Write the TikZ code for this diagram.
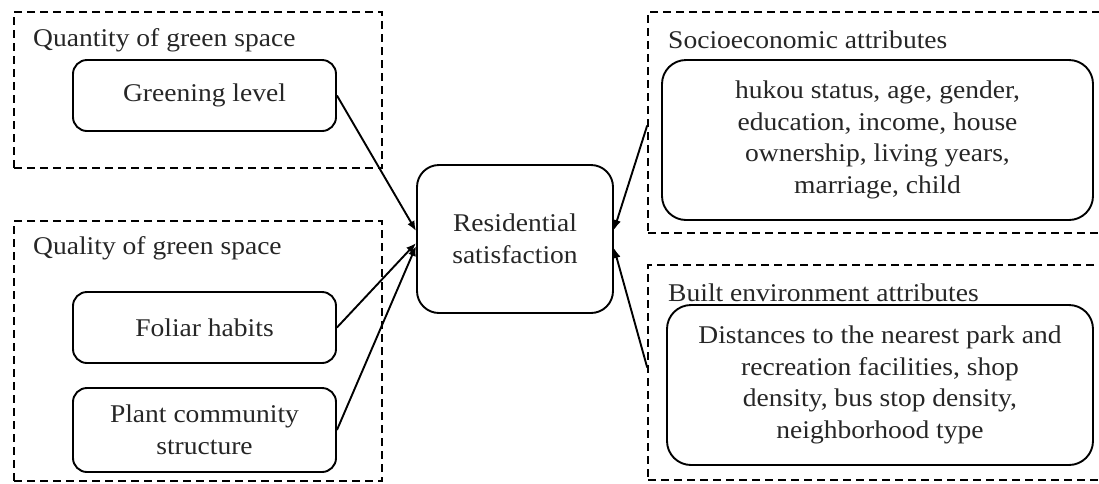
\documentclass[tikz,border=0pt]{standalone}
\usepackage{fontspec}
\setmainfont[FakeStretch=1.08]{Liberation Serif}
\usetikzlibrary{arrows.meta,calc}
\begin{document}
\begin{tikzpicture}[x=1pt,y=-1pt,
 dbox/.style={draw, line width=1.6pt, dash pattern=on 8pt off 5pt, inner sep=0},
 rbox/.style={draw, rounded corners=14pt, line width=1.9pt, align=center, inner sep=0, text=black!85,
   font=\fontsize{25.5}{31.7}\selectfont},
 lbl/.style={anchor=west, font=\fontsize{25.5}{28}\selectfont, inner sep=0, text=black!85},
 arr/.style={-{Latex[length=10pt,width=8pt]}, line width=1.9pt}]
\useasboundingbox (0,0) rectangle (1099,483);
% dashed group boxes
\node[dbox, minimum width=368pt, minimum height=156pt] (qbox) at (198,90) {};
\node[dbox, minimum width=368pt, minimum height=260pt] (lbox) at (198,351) {};
\node[dbox, minimum width=460pt, minimum height=221pt] (sbox) at (878,122.5) {};
\node[dbox, minimum width=460pt, minimum height=215pt] (bbox) at (878,372.5) {};
% group titles
\node[lbl] (qt) at (33,40) {Quantity of green space};
\node[lbl] (lt) at (33,248) {Quality of green space};
\node[lbl] (st) at (668,40) {Socioeconomic attributes};
\node[lbl] (bt) at (668,293) {Built environment attributes};
% boxes
\node[rbox, minimum width=263pt, minimum height=71pt] (green) at (204.5,95.5) {Greening level};
\node[rbox, minimum width=263pt, minimum height=71pt] (foliar) at (204.5,327.5) {Foliar habits};
\node[rbox, minimum width=263pt, minimum height=84pt] (plant) at (204.5,430) {Plant community\\structure};
\node[rbox, rounded corners=22pt, minimum width=196pt, minimum height=148pt] (res) at (515,239) {Residential\\satisfaction};
\node[rbox, rounded corners=24pt, minimum width=431pt, minimum height=160pt] (socio) at (877.5,140) {hukou status, age, gender,\\education, income, house\\ownership, living years,\\marriage, child};
\node[rbox, rounded corners=24pt, minimum width=426pt, minimum height=160pt] (built) at (880,385) {Distances to the nearest park and\\recreation facilities, shop\\density, bus stop density,\\neighborhood type};
% arrows
\draw[arr] (green.east) -- ($(res.west)+(0,-8)$);
\draw[arr] (foliar.east) -- ($(res.west)+(0,4)$);
\draw[arr] (plant.east) -- ($(res.west)+(0,7)$);
\draw[arr] ($(sbox.west)+(0,3)$) -- ($(res.east)+(0,-9)$);
\draw[arr] ($(bbox.west)+(0,-5)$) -- ($(res.east)+(0,9)$);
\end{tikzpicture}
\end{document}
